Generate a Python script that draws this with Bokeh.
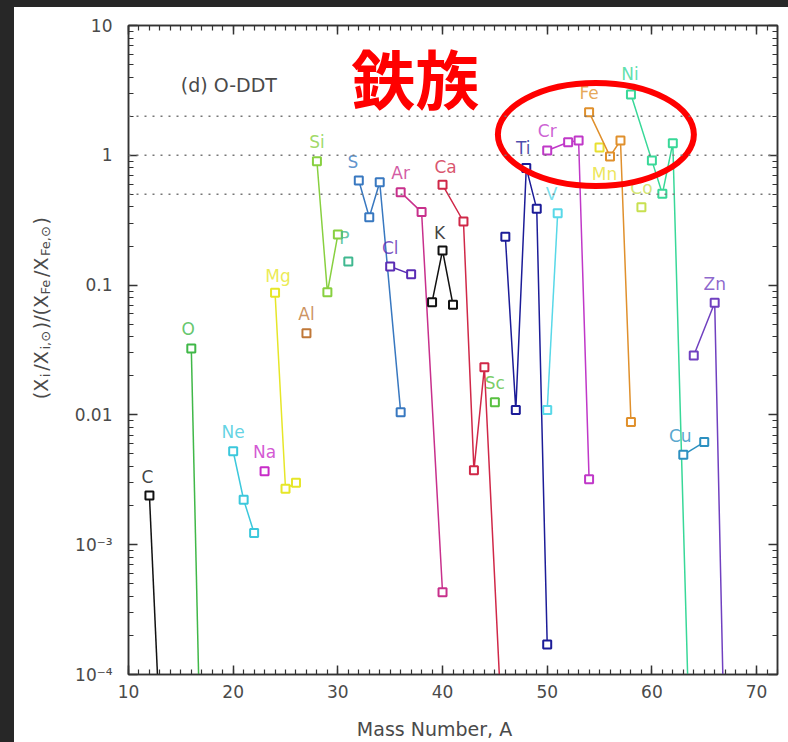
import math
from bokeh.plotting import figure
from bokeh.models import (Range1d, LinearAxis, LogAxis, FixedTicker, Span, Label,
                          ColumnDataSource, Spacer)
from bokeh.layouts import row, column
from bokeh.core.properties import value
from bokeh.embed import file_html
from bokeh.resources import INLINE

# Isotopic yields relative to solar, normalised to Fe: (X_i/X_i,sun)/(X_Fe/X_Fe,sun)
mass_C = [12, 13];              ratio_C = [2.39e-3, 3.8e-5]
mass_O = [16, 17];              ratio_O = [3.25e-2, 8.0e-6]
mass_Ne = [20, 21, 22];         ratio_Ne = [5.25e-3, 2.22e-3, 1.23e-3]
mass_Na = [23];                 ratio_Na = [3.68e-3]
mass_Mg = [24, 25, 26];         ratio_Mg = [8.73e-2, 2.7e-3, 3.0e-3]
mass_Al = [27];                 ratio_Al = [4.25e-2]
mass_Si = [28, 29, 30];         ratio_Si = [0.90, 8.8e-2, 0.245]
mass_P = [31];                  ratio_P = [0.152]
mass_S = [32, 33, 34, 36];      ratio_S = [0.64, 0.333, 0.62, 1.05e-2]
mass_Cl = [35, 37];             ratio_Cl = [0.139, 0.121]
mass_Ar = [36, 38, 40];         ratio_Ar = [0.52, 0.365, 4.3e-4]
mass_K = [39, 40, 41];          ratio_K = [7.38e-2, 0.185, 7.05e-2]
mass_Ca = [40, 42, 43, 44, 46]; ratio_Ca = [0.593, 0.309, 3.75e-3, 2.33e-2, 1.1e-5]
mass_Sc = [45];                 ratio_Sc = [1.25e-2]
mass_Ti = [46, 47, 48, 49, 50]; ratio_Ti = [0.236, 1.09e-2, 0.80, 0.387, 1.70e-4]
mass_V = [50, 51];              ratio_V = [1.09e-2, 0.358]
mass_Cr = [50, 52, 53, 54];     ratio_Cr = [1.09, 1.26, 1.30, 3.2e-3]
mass_Mn = [55];                 ratio_Mn = [1.15]
mass_Fe = [54, 56, 57, 58];     ratio_Fe = [2.15, 0.98, 1.30, 8.8e-3]
mass_Co = [59];                 ratio_Co = [0.398]
mass_Ni = [58, 60, 61, 62, 64]; ratio_Ni = [2.94, 0.91, 0.505, 1.24, 2.0e-6]
mass_Cu = [63, 65];             ratio_Cu = [4.93e-3, 6.17e-3]
mass_Zn = [64, 66, 67];         ratio_Zn = [2.87e-2, 7.31e-2, 1.5e-5]

# isotope above which each element name is written
label_mass = {"C": 12, "O": 16, "Ne": 20, "Na": 23, "Mg": 24, "Al": 27, "Si": 28,
              "P": 31, "S": 32, "Cl": 35, "Ar": 36, "K": 40, "Ca": 40, "Sc": 45,
              "Ti": 48, "V": 51, "Cr": 50, "Mn": 55, "Fe": 54, "Co": 59, "Ni": 58,
              "Cu": 63, "Zn": 66}

x_ticks = [10, 20, 30, 40, 50, 60, 70]
y_ticks = [1e-4, 1e-3, 1e-2, 1e-1, 1.0, 10.0]
y_tick_labels = ["10\u207b\u2074", "10\u207b\u00b3", "0.01", "0.1", "1", "10"]
reference_levels = [0.5, 1.0, 2.0]

series = [
    ("C", mass_C, ratio_C, "#111111"),
    ("O", mass_O, ratio_O, "#40b848"),
    ("Ne", mass_Ne, ratio_Ne, "#3cc8dc"),
    ("Na", mass_Na, ratio_Na, "#c82cc8"),
    ("Mg", mass_Mg, ratio_Mg, "#e6e628"),
    ("Al", mass_Al, ratio_Al, "#c07838"),
    ("Si", mass_Si, ratio_Si, "#88d040"),
    ("P", mass_P, ratio_P, "#40b890"),
    ("S", mass_S, ratio_S, "#3878c0"),
    ("Cl", mass_Cl, ratio_Cl, "#5a2cb4"),
    ("Ar", mass_Ar, ratio_Ar, "#c8308c"),
    ("K", mass_K, ratio_K, "#111111"),
    ("Ca", mass_Ca, ratio_Ca, "#d02848"),
    ("Sc", mass_Sc, ratio_Sc, "#58c040"),
    ("Ti", mass_Ti, ratio_Ti, "#1c1c98"),
    ("V", mass_V, ratio_V, "#58d8e8"),
    ("Cr", mass_Cr, ratio_Cr, "#c038c8"),
    ("Mn", mass_Mn, ratio_Mn, "#e8e030"),
    ("Fe", mass_Fe, ratio_Fe, "#e0902c"),
    ("Co", mass_Co, ratio_Co, "#c8e050"),
    ("Ni", mass_Ni, ratio_Ni, "#38d898"),
    ("Cu", mass_Cu, ratio_Cu, "#2c90c0"),
    ("Zn", mass_Zn, ratio_Zn, "#7040c0"),
]

# pixel nudges for element names (default: centred 19 px above the point)
name_nudge = {"C": (-2, -19), "O": (-3, -19), "Mg": (3, -17), "P": (-4, -23),
              "S": (-6, -18), "K": (-3, -17), "Ca": (3, -18), "Ti": (-3, -20),
              "V": (-6, -19), "Mn": (5, 27), "Ni": (-1, -21), "Cu": (-3, -19)}

FONT = "DejaVu Sans"
AXIS_GREY = "#333333"
TEXT_GREY = "#4a4a4a"
BAND = "#272727"

# ---- main panel -------------------------------------------------------------
p = figure(width=728, height=705, x_range=Range1d(10, 72), y_range=Range1d(1e-4, 10),
           y_axis_type="log", output_backend="svg", toolbar_location=None,
           min_border_left=68, min_border_right=11, min_border_top=18,
           min_border_bottom=38)
p.grid.visible = False
p.background_fill_color = "white"
p.border_fill_color = "white"
p.outline_line_color = AXIS_GREY
p.outline_line_width = 1.5

x_ticker = FixedTicker(ticks=x_ticks, minor_ticks=list(range(10, 73)))
y_minor = [m * 10.0 ** e for e in range(-4, 1) for m in range(2, 10)]
y_ticker = FixedTicker(ticks=y_ticks, minor_ticks=y_minor)


def style_axis(ax):
    ax.axis_line_color = AXIS_GREY
    ax.axis_line_width = 1.5
    ax.major_tick_in = 9
    ax.major_tick_out = 0
    ax.minor_tick_in = 5
    ax.minor_tick_out = 0
    ax.major_tick_line_color = AXIS_GREY
    ax.minor_tick_line_color = AXIS_GREY
    ax.major_tick_line_width = 1.5
    ax.minor_tick_line_width = 1.2
    ax.major_label_text_font = FONT
    ax.major_label_text_font_size = "17px"
    ax.major_label_text_color = TEXT_GREY


xb = p.xaxis[0]
xb.ticker = x_ticker
style_axis(xb)
xb.major_label_standoff = 10

yl = p.yaxis[0]
yl.ticker = y_ticker
style_axis(yl)
yl.major_label_standoff = 16
yl.major_label_overrides = dict(zip(y_ticks, y_tick_labels))

xt = LinearAxis(ticker=x_ticker)
style_axis(xt)
xt.major_label_overrides = {t: "" for t in x_ticks}
xt.major_label_standoff = 0
p.add_layout(xt, "above")

yr = LogAxis(ticker=y_ticker)
style_axis(yr)
yr.major_label_overrides = {t: "" for t in y_ticks}
yr.major_label_standoff = 0
p.add_layout(yr, "right")

for lvl in reference_levels:
    p.add_layout(Span(location=lvl, dimension="width", line_color="#777777",
                      line_width=1.5, line_dash="2 6"))

# one polyline with open squares per element
for name, masses, ratios, color in series:
    p.line(masses, ratios, line_color=color, line_width=1.5)
    p.scatter(masses, ratios, marker="square", size=8, fill_color="white",
              line_color=color, line_width=2)

names_x, names_y, names_text, names_color, nx, ny = [], [], [], [], [], []
for name, masses, ratios, color in series:
    m = label_mass[name]
    names_x.append(m)
    names_y.append(ratios[masses.index(m)])
    names_text.append(name)
    names_color.append(color)
    dx, dy = name_nudge.get(name, (0, -19))
    nx.append(dx)
    ny.append(dy)

name_src = ColumnDataSource(dict(x=names_x, y=names_y, text=names_text,
                                 color=names_color, dx=nx, dy=ny))
p.text(x="x", y="y", text="text", source=name_src, text_color="color",
       text_alpha=0.8, x_offset="dx", y_offset="dy", text_align="center",
       text_baseline="middle", text_font=value(FONT), text_font_size="17px")

p.add_layout(Label(x=15.0, y=3.5, text="(d) O-DDT", text_font=FONT,
                   text_font_size="19px", text_color=TEXT_GREY,
                   text_baseline="middle", text_align="left"))

# heading for the iron-peak group and the ring around it
p.add_layout(Label(x=37.4, y=4.1, text="鉄族", text_font="Noto Sans CJK JP",
                   text_font_style="bold", text_font_size="64px",
                   text_color="#ff0000", text_align="center",
                   text_baseline="middle"))
p.ellipse(x=[54.65], y=[1.445], width=196, height=103, width_units="screen",
          height_units="screen", fill_color=None, line_color="#ff0000",
          line_width=6)


def blank_panel(w, h):
    f = figure(width=w, height=h, x_range=Range1d(0, w), y_range=Range1d(0, h),
               x_axis_location=None, y_axis_location=None, output_backend="svg",
               toolbar_location=None, min_border=0)
    f.grid.visible = False
    f.outline_line_color = None
    f.background_fill_color = "white"
    f.border_fill_color = "white"
    return f


# ---- y title: rotated main text with subscripts ------------------------------
ylab = blank_panel(46, 705)
MAIN, SUB = 19, 13
pieces = [("(X", False), ("i", True), ("/X", False), ("i,\u2299", True),
          (")/(X", False), ("Fe", True), ("/X", False), ("Fe,\u2299", True),
          (")", False)]
em = {"(": 0.390, ")": 0.390, "X": 0.685, "/": 0.337, "i": 0.278, ",": 0.318,
      "\u2299": 0.838, "F": 0.575, "e": 0.615}
pos = 299.0
for txt, is_sub in pieces:
    size = SUB if is_sub else MAIN
    ylab.text(x=[30.5 if is_sub else 26.0], y=[pos], text=[txt], angle=math.pi / 2,
              text_font=value(FONT), text_font_size=f"{size}px",
              text_color=TEXT_GREY, text_align="left", text_baseline="alphabetic")
    pos += sum(em[c] for c in txt) * size + 3.5

# ---- x title ----------------------------------------------------------------
xlab = blank_panel(774, 30)
xlab.text(x=[420], y=[14], text=["Mass Number, A"], text_font=value(FONT),
          text_font_size="19px", text_color=TEXT_GREY, text_align="center",
          text_baseline="middle")

page = column(row(ylab, p), xlab)
layout = row(Spacer(width=14, height=742, styles={"background-color": BAND}),
             column(Spacer(width=774, height=7, styles={"background-color": BAND}), page))

open("out.html", "w").write(file_html(layout, INLINE))
